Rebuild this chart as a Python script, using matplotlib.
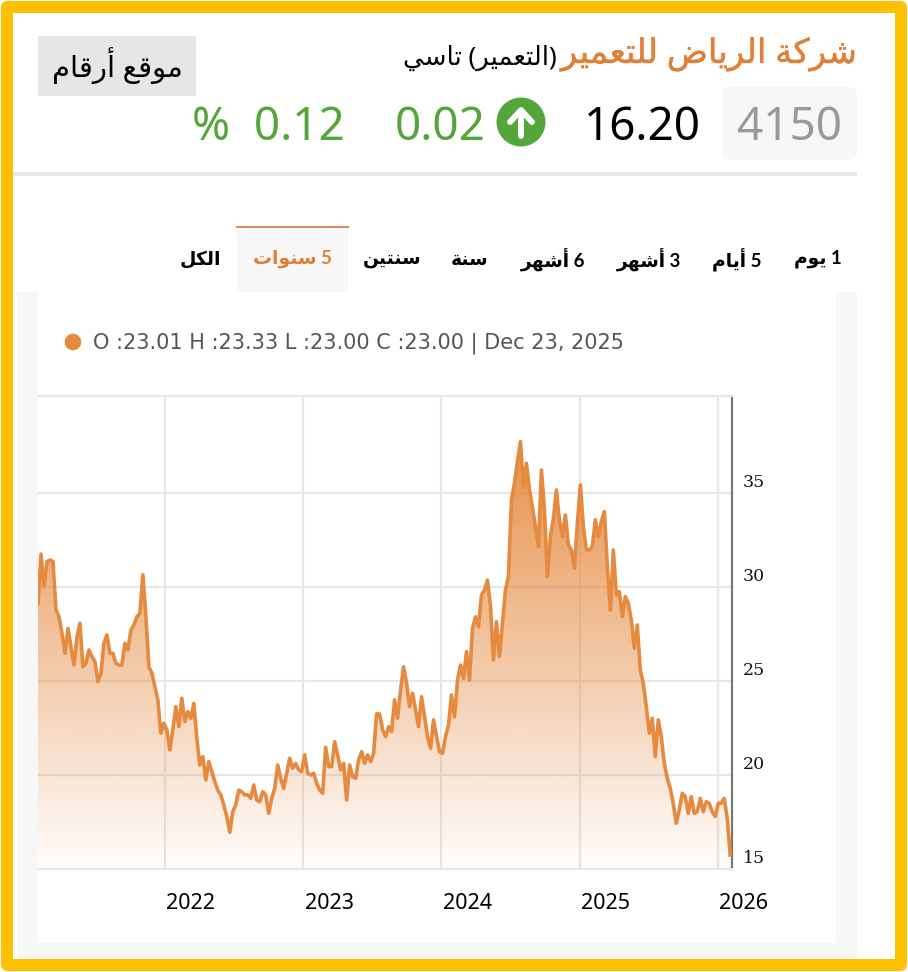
import matplotlib

matplotlib.use("Agg")
import matplotlib.dates as mdates
import matplotlib.patheffects as pe
import matplotlib.pyplot as plt
import numpy as np
import pandas as pd
from matplotlib.patches import Circle, FancyBboxPatch, Rectangle
from matplotlib.transforms import ScaledTranslation

# closing prices, one value every 190 hours
close = [
    29.13, 31.75, 30.02, 31.35, 31.44, 31.35, 28.78, 28.42, 27.54, 26.47, 27.80, 26.83, 25.85, 27.36,
    28.07, 25.76, 25.94, 26.65, 26.30, 26.03, 24.97, 25.41, 27.01, 27.45, 26.47, 26.47, 25.94, 25.85,
    25.85, 27.01, 26.65, 27.71, 27.98, 28.42, 28.60, 30.64, 28.42, 25.76, 25.41, 24.70, 24.00, 22.22,
    22.75, 22.40, 21.33, 22.40, 23.64, 22.57, 24.08, 22.84, 23.37, 23.02, 23.81, 21.95, 20.53, 20.98,
    19.74, 20.71, 20.18, 19.65, 19.20, 18.94, 18.41, 17.79, 16.95, 18.05, 18.41, 19.20, 19.11, 18.94,
    18.94, 18.76, 19.47, 18.67, 18.58, 19.11, 18.94, 17.96, 18.76, 19.29, 20.53, 19.82, 19.29, 20.09,
    20.89, 20.36, 20.62, 20.27, 20.18, 21.07, 20.09, 20.00, 20.09, 19.56, 19.20, 19.03, 21.47, 20.45,
    20.45, 21.77, 21.07, 20.27, 20.62, 18.67, 20.53, 19.91, 19.82, 20.80, 21.24, 20.62, 21.07, 20.71,
    21.15, 23.25, 23.25, 22.40, 22.04, 22.57, 22.31, 24.00, 23.02, 24.52, 25.76, 24.88, 23.64, 24.35,
    23.46, 22.57, 24.17, 23.10, 22.04, 21.42, 22.93, 22.04, 21.24, 21.15, 22.04, 22.66, 24.26, 23.10,
    25.05, 25.85, 25.14, 26.56, 25.05, 27.80, 28.42, 27.89, 29.58, 29.84, 30.37, 28.96, 26.12, 28.16,
    26.30, 28.07, 29.84, 30.55, 34.63, 35.52, 36.67, 37.73, 35.34, 36.58, 35.16, 34.27, 33.21, 32.15,
    36.22, 34.10, 30.55, 32.68, 33.65, 35.16, 33.57, 32.68, 33.83, 32.24, 31.97, 30.99, 33.39, 35.43,
    33.21, 31.97, 31.97, 32.15, 33.57, 32.68, 33.48, 34.01, 31.08, 28.78, 31.97, 29.58, 29.75, 28.42,
    29.49, 29.13, 28.25, 26.74, 27.98, 25.59, 24.88, 23.64, 22.22, 23.02, 20.98, 22.93, 22.04, 20.62,
    19.82, 19.29, 18.49, 17.43, 18.14, 19.03, 18.85, 17.96, 18.85, 17.96, 18.05, 18.76, 18.05, 18.58,
    18.49, 18.05, 17.79, 18.49, 18.49, 18.76, 17.70, 15.74,
]
y_ticks = [15, 20, 25, 30, 35]
tabs = ["1 يوم", "5 أيام", "3 أشهر", "6 أشهر", "سنة", "سنتين", "5 سنوات", "الكل"]
tab_centers = [818, 737, 649, 553, 470, 392, 292, 200]
selected_tab = "5 سنوات"
legend_text = "O :23.01 H :23.33 L :23.00 C :23.00 | Dec 23, 2025"

ORANGE = "#e58a3f"
TITLE_ORANGE = "#e07f35"
GREEN = "#55a63a"
GRID = "#e7e7e7"
PANEL = "#f7f7f7"
SANS = ["Noto Sans", "DejaVu Sans"]
SANS_BOLD = ["Lato", "DejaVu Sans"]

# joined letter forms: isolated, final, initial, medial
FORMS = {
    "ا": "\ufe8d\ufe8e", "أ": "\ufe83\ufe84", "ر": "\ufead\ufeae", "و": "\ufeed\ufeee", "ة": "\ufe93\ufe94",
    "ت": "\ufe95\ufe96\ufe97\ufe98", "س": "\ufeb1\ufeb2\ufeb3\ufeb4", "ش": "\ufeb5\ufeb6\ufeb7\ufeb8",
    "ض": "\ufebd\ufebe\ufebf\ufec0", "ع": "\ufec9\ufeca\ufecb\ufecc", "ق": "\ufed5\ufed6\ufed7\ufed8",
    "ك": "\ufed9\ufeda\ufedb\ufedc", "ل": "\ufedd\ufede\ufedf\ufee0", "م": "\ufee1\ufee2\ufee3\ufee4",
    "ن": "\ufee5\ufee6\ufee7\ufee8", "ه": "\ufee9\ufeea\ufeeb\ufeec", "ي": "\ufef1\ufef2\ufef3\ufef4",
}


def shape_word(word):
    out = []
    for i, ch in enumerate(word):
        forms = FORMS.get(ch)
        if forms is None:
            out.append(ch)
            continue
        prev = FORMS.get(word[i - 1]) if i > 0 else None
        after = i + 1 < len(word) and word[i + 1] in FORMS
        joins_prev = prev is not None and len(prev) == 4
        joins_next = after and len(forms) == 4
        idx = {(False, False): 0, (True, False): 1, (False, True): 2, (True, True): 3}[(joins_prev, joins_next)]
        out.append(forms[idx])
    return "".join(out)[::-1].translate(str.maketrans("()", ")("))


def rtl(text):
    # matplotlib draws glyphs left to right with no shaping, so build the visual order here
    return " ".join(w if w.isdigit() else shape_word(w) for w in text.split(" ")[::-1])


fig = plt.figure(figsize=(9.08, 9.72), dpi=100)
fig.patch.set_facecolor("white")

page = fig.add_axes([0, 0, 1, 1], zorder=0)
page.set_xlim(0, 908)
page.set_ylim(972, 0)
page.axis("off")

# page furniture, in pixels
page.add_patch(Rectangle((17, 292), 840, 667, fc=PANEL, ec="none"))
page.add_patch(Rectangle((38, 292), 798, 651, fc="white", ec="none"))
page.add_patch(Rectangle((7, 7), 893.5, 958, fc="none", ec="#ffc000", lw=8.6, joinstyle="round"))
page.add_patch(Rectangle((38, 36), 158, 60, fc="#e6e6e6", ec="none"))
page.add_patch(Rectangle((13, 172.5), 844, 3.5, fc="#e8e8e8", ec="none"))
page.add_patch(FancyBboxPatch((730, 95), 119, 57, boxstyle="round,pad=8", fc=PANEL, ec="none"))

heavy = [pe.withStroke(linewidth=0.25, foreground=TITLE_ORANGE)]
page.text(856, 54, rtl("شركة الرياض للتعمير"), color=TITLE_ORANGE, fontsize=24.5, family=SANS, ha="right",
          va="center", path_effects=heavy)
page.text(557, 58, rtl("(التعمير) تاسي"), color="black", fontsize=18.7, family=SANS, ha="right", va="center")
page.text(117, 66, rtl("موقع أرقام"), color="black", fontsize=21, family=SANS, ha="center", va="center")

page.text(790, 128, "4150", color="#999999", fontsize=33, family=SANS, ha="center", va="center")
page.text(642, 128, "16.20", color="black", fontsize=33, family=SANS, ha="center", va="center")
page.text(440, 128, "0.02", color=GREEN, fontsize=33, family=SANS, ha="center", va="center")
page.text(268.5, 128, "%  0.12", color=GREEN, fontsize=33, family=SANS, ha="center", va="center")

page.add_patch(Circle((521, 122), 24.5, fc=GREEN, ec="none"))
page.plot([521, 521], [112, 136], color="white", lw=4.2, solid_capstyle="round")
page.plot([510, 521, 532], [122, 110, 122], color="white", lw=4.2, solid_capstyle="round", solid_joinstyle="round")

page.add_patch(Rectangle((237, 227), 111, 65, fc=PANEL, ec="none"))
page.plot([237, 348], [227.5, 227.5], color="#d98a52", lw=1.4)
for tab, cx in zip(tabs, tab_centers):
    page.text(
        cx, 259, rtl(tab), color=TITLE_ORANGE if tab == selected_tab else "black",
        fontsize=13.5, fontweight="bold", family=SANS_BOLD, ha="center", va="center",
    )

page.add_patch(Circle((73, 342), 8.3, fc=ORANGE, ec="none"))
page.text(93, 343, legend_text, color="#555555", fontsize=15, family="DejaVu Sans", ha="left", va="center")

# price chart
dates = pd.date_range("2021-01-30 12:00", periods=len(close), freq="190h")
x_num = mdates.date2num(dates)
x_left, x_right = mdates.date2num(pd.Timestamp("2021-01-30 12:00")), mdates.date2num(pd.Timestamp("2026-02-07"))
y_low, y_high = 15, 40.16

ax = fig.add_axes([38 / 908, (972 - 869) / 972, 694 / 908, 473 / 972], zorder=1)
ax.patch.set_alpha(0)

shade = np.zeros((256, 1, 4))
shade[..., :3] = matplotlib.colors.to_rgb(ORANGE)
shade[:, 0, 3] = np.linspace(0.95, 0.02, 256)
im = ax.imshow(shade, extent=[x_left, x_right, y_low, 38], origin="upper", aspect="auto", zorder=1)
area = ax.fill_between(x_num, close, y_low, color="none")
im.set_clip_path(area.get_paths()[0], transform=ax.transData)

ax.plot(x_num, close, color=ORANGE, lw=2.6, solid_joinstyle="round", zorder=3)

ax.set_xlim(x_left, x_right)
ax.set_ylim(y_low, y_high)
ax.xaxis.set_major_locator(mdates.YearLocator())
ax.xaxis.set_major_formatter(mdates.DateFormatter("%Y"))
ax.yaxis.tick_right()
ax.set_yticks(y_ticks)
ax.set_axisbelow(True)
ax.grid(True, color=GRID, lw=1.6)
ax.tick_params(axis="both", length=0)
ax.tick_params(axis="x", pad=17)
ax.tick_params(axis="y", pad=8)

for side in ["top", "bottom"]:
    ax.spines[side].set_color(GRID)
    ax.spines[side].set_linewidth(1.6)
ax.spines["left"].set_visible(False)
ax.spines["right"].set_color("#777777")
ax.spines["right"].set_linewidth(1.6)

for label in ax.get_xticklabels():
    label.set_fontfamily("Noto Sans")
    label.set_fontsize(15.5)
    label.set_color("black")
    label.set_transform(label.get_transform() + ScaledTranslation(26 / 100, 0, fig.dpi_scale_trans))
for label in ax.get_yticklabels():
    label.set_fontfamily("DejaVu Serif")
    label.set_fontsize(12.5)
    label.set_color("#111111")
    label.set_transform(label.get_transform() + ScaledTranslation(0, 12.5 / 100, fig.dpi_scale_trans))

fig.savefig("out.png", dpi=100)
plt.close(fig)
